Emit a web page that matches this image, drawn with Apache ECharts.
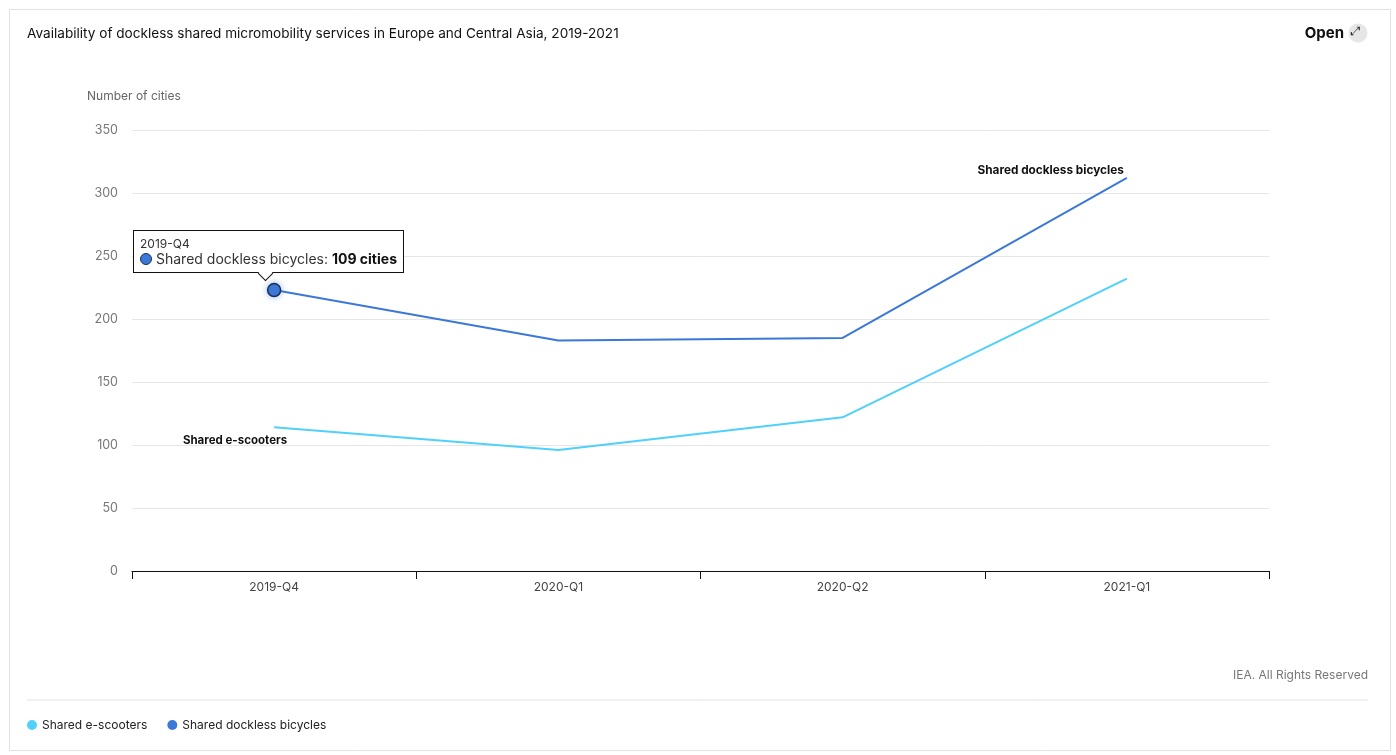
<!DOCTYPE html>
<html>
<head>
<meta charset="utf-8">
<script src="https://cdn.jsdelivr.net/npm/echarts@6/dist/echarts.min.js"></script>
<style>
html,body{margin:0;padding:0;background:#fff;}
#chart{width:1396px;height:755px;}
.iea-tip::after{content:"";position:absolute;left:126px;bottom:-7px;width:10px;height:10px;background:#fff;border-right:1px solid #111;border-bottom:1px solid #111;transform:rotate(45deg);}
</style>
</head>
<body>
<div id="chart"></div>
<script>
const categories = ['2019-Q4', '2020-Q1', '2020-Q2', '2021-Q1'];
const escooters = [114, 96, 122, 232];
const bicycles = [109, 87, 63, 80];
const seriesNames = ['Shared e-scooters', 'Shared dockless bicycles'];
const yTicks = [0, 50, 100, 150, 200, 250, 300, 350];

const FONT = 'Inter, Roboto, "Noto Sans", sans-serif';
const C_SCOOT = '#50d0fb';
const C_BIKE = '#3c78d8';

const chart = echarts.init(document.getElementById('chart'));

const scootData = escooters.map((v, i) => {
  const d = { value: v };
  if (i === 0) {
    d.label = { show: true, position: 'bottom', align: 'right', offset: [13, 2],
      formatter: seriesNames[0], fontFamily: FONT, fontWeight: 'bold', fontSize: 11.5, color: '#111' };
  }
  return d;
});
const bikeData = bicycles.map((v, i) => {
  const d = { value: v };
  if (i === 0) {
    d.symbolSize = 13;
    d.itemStyle = { color: C_BIKE, borderColor: '#1d2f55', borderWidth: 1.5,
      shadowColor: 'rgba(60,120,216,0.45)', shadowBlur: 6 };
  }
  if (i === bicycles.length - 1) {
    d.label = { show: true, position: 'top', align: 'right', offset: [-3, 4],
      formatter: seriesNames[1], fontFamily: FONT, fontWeight: 'bold', fontSize: 11.8, color: '#111' };
  }
  return d;
});

const option = {
  animation: false,
  textStyle: { fontFamily: FONT },
  title: {
    text: 'Availability of dockless shared micromobility services in Europe and Central Asia, 2019-2021',
    left: 22, top: 22,
    textStyle: { fontFamily: FONT, fontSize: 13.6, fontWeight: 'normal', color: '#111' }
  },
  grid: { left: 132, right: 127, top: 130, bottom: 184 },
  legend: {
    left: 22, top: 714, icon: 'circle', itemWidth: 10, itemHeight: 10, itemGap: 20, itemTextGap: 6,
    textStyle: { fontFamily: FONT, fontSize: 12, color: '#222' },
    data: seriesNames
  },
  tooltip: {
    trigger: 'item', triggerOn: 'none', alwaysShowContent: true,
    className: 'iea-tip',
    backgroundColor: '#fff', borderColor: '#111', borderWidth: 1, borderRadius: 0,
    padding: [5, 6, 6, 6],
    extraCssText: 'box-shadow:none;overflow:visible;',
    position: function (point, params) {
      const p = chart.convertToPixel({ seriesIndex: 1 },
        [params.dataIndex, escooters[params.dataIndex] + bicycles[params.dataIndex]]);
      return [p[0] - 141, p[1] - 60];
    },
    formatter: function (p) {
      return '<div style="font-family:' + FONT.replace(/"/g, "'") + ';color:#333;line-height:15px;">' +
        '<div style="font-size:12px;">' + p.name + '</div>' +
        '<div style="font-size:14px;"><span style="display:inline-block;width:10px;height:10px;border-radius:50%;background:' + C_BIKE + ';border:1px solid #1d2f55;margin-right:4px;vertical-align:-1px;"></span>' +
        p.seriesName + ': <b style="color:#111">' + p.value + ' cities</b></div></div>';
    }
  },
  xAxis: {
    type: 'category', data: categories, boundaryGap: true,
    axisLine: { lineStyle: { color: '#111', width: 1 } },
    axisTick: { show: true, alignWithLabel: false, length: 8, lineStyle: { color: '#111' } },
    axisLabel: { fontFamily: FONT, fontSize: 12, color: '#444', margin: 10 }
  },
  yAxis: {
    type: 'value', min: yTicks[0], max: yTicks[yTicks.length - 1], interval: 50,
    name: 'Number of cities', nameLocation: 'end', nameGap: 28,
    nameTextStyle: { fontFamily: FONT, fontSize: 12, color: '#666', align: 'left', padding: [0, 0, 0, -45] },
    axisLine: { show: false }, axisTick: { show: false },
    axisLabel: { fontFamily: FONT, fontSize: 12.5, color: '#777', margin: 14 },
    splitLine: { lineStyle: { color: '#e6e6e6' } }
  },
  series: [
    {
      name: seriesNames[0], type: 'line', stack: 'total', data: scootData,
      color: C_SCOOT, symbol: 'circle', symbolSize: 0, showSymbol: true,
      lineStyle: { width: 2, color: C_SCOOT }, itemStyle: { color: C_SCOOT },
      emphasis: { disabled: true }, z: 2
    },
    {
      name: seriesNames[1], type: 'line', stack: 'total', data: bikeData,
      color: C_BIKE, symbol: 'circle', symbolSize: 0, showSymbol: true,
      lineStyle: { width: 2, color: C_BIKE }, itemStyle: { color: C_BIKE },
      emphasis: { disabled: true }, z: 3
    }
  ],
  graphic: [
    { type: 'rect', left: 7, top: 7, shape: { width: 1381, height: 741 }, silent: true, z: -10,
      style: { fill: 'none', stroke: '#e3e3e3', lineWidth: 1 } },
    { type: 'line', silent: true, shape: { x1: 27, y1: 700, x2: 1368, y2: 700 },
      style: { stroke: '#e3e3e3', lineWidth: 1 } },
    { type: 'text', right: 52, top: 26, style: { text: 'Open', font: 'bold 15px ' + FONT, fill: '#111' } },
    { type: 'circle', shape: { cx: 1358, cy: 33, r: 9.5 }, style: { fill: '#e6e6e6' }, silent: true },
    { type: 'text', left: 1351, top: 26, style: { text: '⤢', font: '12px "DejaVu Sans"', fill: '#222' } },
    { type: 'text', right: 28, top: 669, style: { text: 'IEA. All Rights Reserved', font: '12px ' + FONT, fill: '#777' } }
  ]
};

chart.setOption(option);
chart.dispatchAction({ type: 'showTip', seriesIndex: 1, dataIndex: 0 });
</script>
</body>
</html>
